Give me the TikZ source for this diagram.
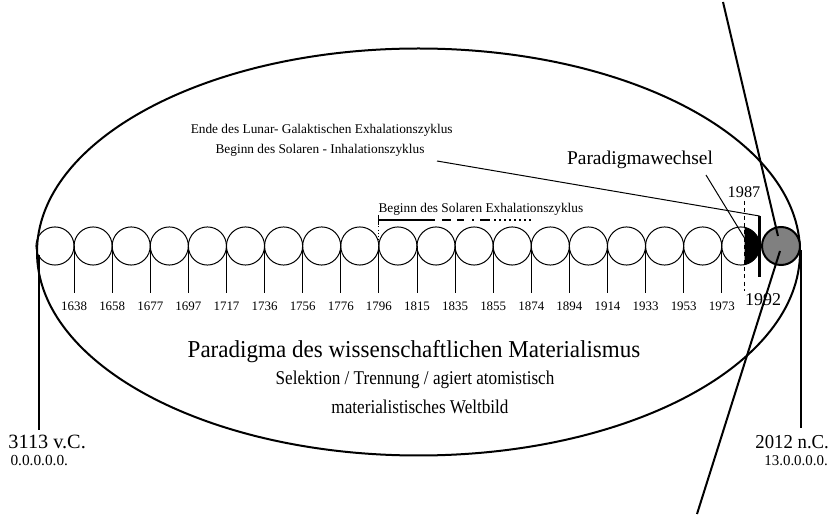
\documentclass[tikz,border=0pt]{standalone}
\usepackage{fontspec}
\setmainfont{Liberation Serif}
\tikzset{every picture/.style={line width=0.75pt}}
\tikzset{
  yearlbl/.style={inner sep=0.75pt, font=\fontsize{9.7}{11}\selectfont},
  notelbl/.style={inner sep=0.75pt, font=\fontsize{10}{12}\selectfont},
  sublbl/.style={inner sep=0.75pt, xscale=0.88, font=\fontsize{14.6}{17}\selectfont},
  heavy/.style={line width=1.5pt},
}

\begin{document}
\begin{tikzpicture}[x=0.75pt,y=0.75pt,yscale=-1,xscale=1]
	\useasboundingbox (0,0) rectangle (832,516);

	%Shape: Ellipse
	\draw [heavy] (418.5,252) ellipse (381.5 and 203.5);

	%Shape: Circles row
	\draw (55,246) circle (19.05);
	\draw (93.1,246) circle (19.05);
	\draw (131.2,246) circle (19.05);
	\draw (169.3,246) circle (19.05);
	\draw (207.4,246) circle (19.05);
	\draw (245.5,246) circle (19.05);
	\draw (283.6,246) circle (19.05);
	\draw (321.7,246) circle (19.05);
	\draw (359.8,246) circle (19.05);
	\draw (397.9,246) circle (19.05);
	\draw (436,246) circle (19.05);
	\draw (474.1,246) circle (19.05);
	\draw (512.2,246) circle (19.05);
	\draw (550.3,246) circle (19.05);
	\draw (588.4,246) circle (19.05);
	\draw (626.5,246) circle (19.05);
	\draw (664.6,246) circle (19.05);
	\draw (702.7,246) circle (19.05);
	\draw (740.8,246) circle (19.05);
	%Shape: black part of last circle
	\begin{scope}
		\clip (744.5,200) rectangle (790,300);
		\fill (740.8,246) circle (19.05);
	\end{scope}
	%Shape: Circle (sun)
	\draw [heavy, fill={rgb, 255:red, 128; green, 128; blue, 128 }] (781,246) circle (19);

	%Straight Lines (ticks)
	\draw (74.1,246) -- (74.1,293);
	\draw (112.2,246) -- (112.2,293);
	\draw (150.3,246) -- (150.3,293);
	\draw (188.4,246) -- (188.4,293);
	\draw (226.5,246) -- (226.5,293);
	\draw (264.6,246) -- (264.6,293);
	\draw (302.7,246) -- (302.7,293);
	\draw (340.8,246) -- (340.8,293);
	\draw (378.9,246) -- (378.9,293);
	\draw (417,246) -- (417,293);
	\draw (455.1,246) -- (455.1,293);
	\draw (493.2,246) -- (493.2,293);
	\draw (531.3,246) -- (531.3,293);
	\draw (569.4,246) -- (569.4,293);
	\draw (607.5,246) -- (607.5,293);
	\draw (645.6,246) -- (645.6,293);
	\draw (683.7,246) -- (683.7,293);
	\draw (721.8,246) -- (721.8,293);

	% Text Nodes (years)
	\draw (74.1,306) node (y1638) [yearlbl] {1638};
	\draw (112.2,306) node (y1658) [yearlbl] {1658};
	\draw (150.3,306) node (y1677) [yearlbl] {1677};
	\draw (188.4,306) node (y1697) [yearlbl] {1697};
	\draw (226.5,306) node (y1717) [yearlbl] {1717};
	\draw (264.6,306) node (y1736) [yearlbl] {1736};
	\draw (302.7,306) node (y1756) [yearlbl] {1756};
	\draw (340.8,306) node (y1776) [yearlbl] {1776};
	\draw (378.9,306) node (y1796) [yearlbl] {1796};
	\draw (417,306) node (y1815) [yearlbl] {1815};
	\draw (455.1,306) node (y1835) [yearlbl] {1835};
	\draw (493.2,306) node (y1855) [yearlbl] {1855};
	\draw (531.3,306) node (y1874) [yearlbl] {1874};
	\draw (569.4,306) node (y1894) [yearlbl] {1894};
	\draw (607.5,306) node (y1914) [yearlbl] {1914};
	\draw (645.6,306) node (y1933) [yearlbl] {1933};
	\draw (683.7,306) node (y1953) [yearlbl] {1953};
	\draw (721.8,306) node (y1973) [yearlbl] {1973};

	%Straight Lines (1987 mark and bar)
	\coordinate (markTop) at (744.5,201);
	\coordinate (markBot) at (744.5,291);
	\draw [dash pattern={on 3pt off 2.5pt}] (markTop) -- (markBot);
	\coordinate (barTop) at (759.5,216);
	\coordinate (barBot) at (759.5,277);
	\draw [line width=2.4pt] (barTop) -- (barBot);

	%Straight Lines (bracket of the solar exhalation)
	\coordinate (brStart) at (378.9,220);
	\coordinate (brSolid) at (435,220);
	\draw (378.9,215) -- (378.9,225);
	\draw [dash pattern={on 0.8pt off 1.6pt}] (brStart) -- (378.9,246);
	\draw [line width=1.1pt] (brStart) -- (brSolid);
	\draw [line width=1.1pt] (442,220) -- (451,220) (457,220) -- (464,220) (472,220) -- (474,220) (480,220) -- (490,220);
	\draw [line width=1.1pt, dash pattern={on 1.2pt off 2.6pt}] (494,220) -- (534,220);

	%Straight Lines (axis through the sun)
	\coordinate (axisTop) at (723,2);
	\coordinate (axisIn) at (778,236);
	\coordinate (axisOut) at (780,251);
	\coordinate (axisBot) at (697,514);
	\draw [heavy] (axisTop) -- (axisIn);
	\draw [heavy] (axisOut) -- (axisBot);

	%Straight Lines (start and end)
	\coordinate (startTop) at (39,255);
	\coordinate (startBot) at (39,430);
	\draw [line width=1.1pt] (startTop) -- (startBot);
	\coordinate (endTop) at (801,250);
	\coordinate (endBot) at (801,428);
	\draw [line width=1.1pt] (endTop) -- (endBot);

	% Text Node
	\draw (321.7,130) node (lunar) [notelbl] {Ende des Lunar- Galaktischen Exhalationszyklus};
	% Text Node
	\draw (320,150) node (inhal) [notelbl] {Beginn des Solaren - Inhalationszyklus};
	\coordinate (inhalEnd) at (437,161);
	\draw (inhalEnd) -- (barTop);
	% Text Node
	\draw (640,160) node (wechsel) [inner sep=0.75pt, font=\fontsize{14.6}{17}\selectfont] {Paradigmawechsel};
	\coordinate (wechselFoot) at (706,175);
	\coordinate (blackTip) at (744.5,238);
	\draw (wechselFoot) -- (blackTip);
	% Text Node
	\draw (377,209) node (exhal) [notelbl, anchor=west] {Beginn des Solaren Exhalationszyklus};
	% Text Node
	\draw (744,192) node (y1987) [inner sep=0.75pt, font=\fontsize{12.2}{14}\selectfont] {1987};
	% Text Node
	\draw (763,300) node (y1992) [inner sep=0.75pt, font=\fontsize{13.5}{16}\selectfont] {1992};

	% Text Node
	\draw (414,352) node (title) [inner sep=0.75pt, xscale=0.95, font=\fontsize{18.2}{21}\selectfont] {Paradigma des wissenschaftlichen Materialismus};
	% Text Node
	\draw (415,380) node (sel) [sublbl] {Selektion / Trennung / agiert atomistisch};
	% Text Node
	\draw (420,407) node (welt) [sublbl] {materialistisches Weltbild};

	% Text Node
	\draw (7,442) node (bc) [anchor=west, inner sep=0.75pt, font=\fontsize{15.2}{18}\selectfont] {3113 v.C.};
	% Text Node
	\draw (9,461) node (bcLong) [anchor=west, inner sep=0.75pt, font=\fontsize{11.5}{13}\selectfont] {0.0.0.0.0.};
	% Text Node
	\draw (830,442) node (ad) [anchor=east, inner sep=0.5pt, xscale=0.95, font=\fontsize{14.8}{18}\selectfont] {2012 n.C.};
	% Text Node
	\draw (829,461) node (adLong) [anchor=east, inner sep=0.5pt, font=\fontsize{11.2}{13}\selectfont] {13.0.0.0.0.};
\end{tikzpicture}
\end{document}
